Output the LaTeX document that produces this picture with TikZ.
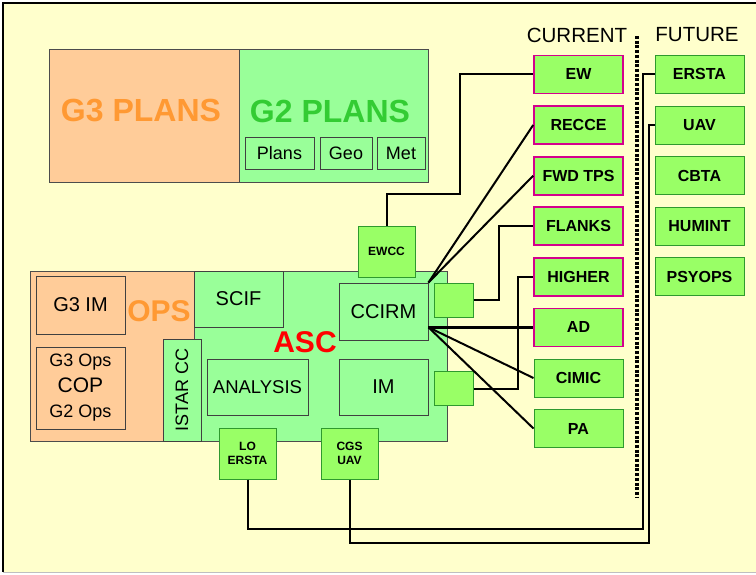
\documentclass[tikz,border=0pt]{standalone}
\usepackage{fontspec}
\setmainfont{Liberation Sans}
\setsansfont{Liberation Sans}
\usetikzlibrary{calc}
\definecolor{paper}{HTML}{FFFFCC}
\definecolor{peach}{HTML}{FFCC99}
\definecolor{plangreen}{HTML}{99FF99}
\definecolor{cellgreen}{HTML}{99FF66}
\definecolor{cellline}{HTML}{2E9A2E}
\definecolor{taskpink}{HTML}{D4008C}
\definecolor{planorange}{HTML}{FF9933}
\definecolor{plantext}{HTML}{33CC33}
\begin{document}
\begin{tikzpicture}[x=1pt, y=-1pt, font=\sffamily,
          every node/.style={inner sep=0pt},
          sz/.style 2 args={minimum width=#1pt, minimum height=#2pt},
          area/.style={draw=black!70, line width=0.8pt},
          inbox/.style={draw=black!75, line width=0.9pt, fill=plangreen, align=center, font=\fontsize{20}{22}\selectfont},
          cell/.style={draw=cellline, line width=1pt, fill=cellgreen, align=center, sz={57}{51}, font=\bfseries\fontsize{12}{14}\selectfont},
          current/.style={cell, sz={89}{38}, font=\bfseries\fontsize{16}{18}\selectfont},
          tasked/.style={current, draw=taskpink, line width=1.6pt},
          big/.style={font=\bfseries\fontsize{32}{34}\selectfont},
          head/.style={font=\fontsize{20.5}{22}\selectfont},
          link/.style={line width=2pt}]
        \useasboundingbox (0,0) rectangle (756,574);
        \fill[white] (0,0) rectangle (756,574);
        \fill[paper] (3,3) rectangle (756,572);
        \draw[line width=1.5pt] (756,3) -- (3,3) -- (3,572);
        \draw[black!25, line width=1pt] (3,572) -- (756,572);
        \node[area, fill=peach, sz={190}{133}] (gthree) at (144,115.5) {};
        \node[area, fill=plangreen, sz={189}{133}] (gtwo) at (333.5,115.5) {};
        \node[big, text=planorange] (gthreetxt) at (141,111) {G3 PLANS};
        \node[big, text=plantext] (gtwotxt) at (330,111) {G2 PLANS};
        \node[inbox, sz={69}{32}, font=\fontsize{18}{20}\selectfont] (plans) at (279.5,153) {Plans};
        \node[inbox, sz={52}{32}, font=\fontsize{18}{20}\selectfont] (geo) at (346,153) {Geo};
        \node[inbox, sz={48}{32}, font=\fontsize{18}{20}\selectfont] (met) at (401,153) {Met};
        \node[area, fill=peach, sz={164}{170}] (ops) at (112,356) {};
        \node[area, fill=plangreen, sz={253}{170}] (asc) at (320.5,356) {};
        \node[inbox, fill=peach, sz={89}{58}] (gthreeim) at (80.5,305) {G3 IM};
        \node[inbox, fill=peach, sz={89}{82}, font=\fontsize{18}{25.5}\selectfont] (cop) at (80.5,388) {G3 Ops\\{\fontsize{21}{25.5}\selectfont COP}\\G2 Ops};
        \node[font=\bfseries\fontsize{30}{32}\selectfont, text=planorange] (opstxt) at (159,311) {OPS};
        \node[inbox, sz={89}{56}] (scif) at (238.5,299) {SCIF};
        \node[inbox, sz={89}{57}] (ccirm) at (383.5,311.5) {CCIRM};
        \node[inbox, sz={101}{56}, font=\fontsize{18.5}{20}\selectfont] (analysis) at (257.5,387) {ANALYSIS};
        \node[inbox, sz={89}{56}] (im) at (383.5,387) {IM};
        \node[inbox, sz={102}{38}, rotate=90, font=\fontsize{18}{20}\selectfont] (istar) at (182,390) {ISTAR CC};
        \node[font=\bfseries\fontsize{30}{32}\selectfont, text=red] (asctxt) at (305,342) {ASC};
        \node[cell] (ewcc) at (386.5,251.5) {EWCC};
        \node[cell] (lo) at (247.5,453.5) {LO\\ERSTA};
        \node[cell] (cgs) at (349.5,453.5) {CGS\\UAV};
        \node[cell, sz={39}{34}] (sqa) at (453.5,300) {};
        \node[cell, sz={39}{34}] (sqb) at (453.5,388.5) {};
        \node[head] (curhead) at (577,35) {CURRENT};
        \node[head] (futhead) at (697,35) {FUTURE};
        \node[tasked] (ew) at (578.5,74.3) {EW};
        \node[tasked] (recce) at (578.5,125) {RECCE};
        \node[tasked] (fwd) at (578.5,175.7) {FWD TPS};
        \node[tasked] (flanks) at (578.5,226) {FLANKS};
        \node[tasked] (higher) at (578.5,276.7) {HIGHER};
        \node[tasked] (ad) at (578.5,327.3) {AD};
        \node[current] (cimic) at (578.5,378) {CIMIC};
        \node[current] (pa) at (578.5,428.5) {PA};
        \node[current] (ersta) at (699.5,74.3) {ERSTA};
        \node[current] (uav) at (699.5,125) {UAV};
        \node[current] (cbta) at (699.5,175.7) {CBTA};
        \node[current] (humint) at (699.5,226) {HUMINT};
        \node[current] (psyops) at (699.5,276.7) {PSYOPS};
        \draw[line width=3.5pt, dash pattern=on 3pt off 1.7pt] (637,36) -- (637,497);
        \coordinate (hub) at (ccirm.east |- ad.west);
        \draw[link] (ewcc.north) |- (460,194) |- (ew.west);
        \draw[link] (ccirm.north east) -- (recce.west);
        \draw[link] (ccirm.north east) -- (fwd.west);
        \draw[link] (sqa.east) -- ++(25,0) |- (flanks.west);
        \draw[link] (sqb.east) -- ++(44,0) |- (higher.west);
        \draw[link, line width=3.2pt] (hub) -- (ad.west);
        \draw[link] (hub) -- (cimic.west);
        \draw[link] (hub) -- (pa.west);
        \draw[link] (lo.south) |- (643,529) |- (ersta.west);
        \draw[link] (cgs.south) |- (649,543) |- (uav.west);
      \end{tikzpicture}
\end{document}
